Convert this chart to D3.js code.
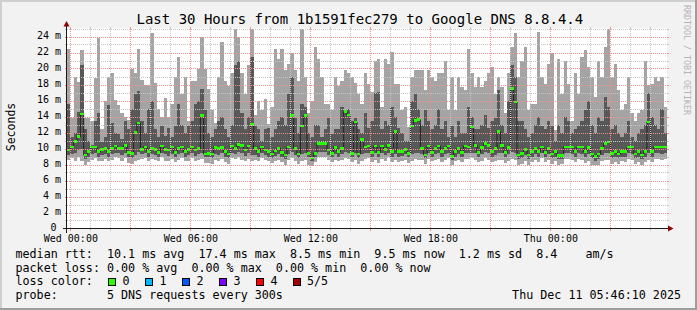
<!DOCTYPE html>
<html>
<head>
<meta charset="utf-8">
<script src="https://cdn.jsdelivr.net/npm/d3@7"></script>
<style>
html, body { margin: 0; padding: 0; background: #f2f2f2; }
svg { display: block; font-family: "DejaVu Sans Mono", monospace; }
</style>
</head>
<body>
<div id="chart"></div>
<script>
// 10 minute steps, 30 hours, values in ms
var startTime = "2025-12-09T23:50:00Z",
    stepMinutes = 10;

var maxRtt = [
  22.5,13.8,19.0,18.3,22.3,13.8,13.8,13.5,18.8,23.8,12.5,16.0,18.9,19.5,16.1,15.5,14.5,14.0,13.6,20.0,19.5,22.5,18.6,17.9,17.9,24.5,18.2,15.0,14.0,16.3,
  13.9,15.6,19.0,21.4,16.8,19.0,13.5,18.5,18.5,20.0,24.0,20.0,17.5,14.8,13.2,19.0,23.3,18.5,17.8,19.4,25.0,24.0,19.4,16.8,20.5,25.0,14.2,16.0,14.8,16.2,
  13.1,15.2,22.5,21.2,22.5,19.8,20.6,22.0,19.8,18.5,25.2,19.0,14.4,16.0,22.7,21.2,19.0,15.6,15.6,14.8,19.0,17.8,18.5,19.8,19.4,19.0,18.2,16.8,15.6,19.4,
  18.1,17.1,21.0,21.2,15.2,21.2,20.6,22.1,18.1,18.1,14.8,15.2,12.7,18.9,19.8,19.8,19.8,17.3,19.8,19.0,18.5,19.4,19.4,21.0,14.8,19.0,14.8,19.0,17.7,17.3,
  22.5,19.4,17.7,19.0,17.7,18.5,19.4,20.2,16.8,19.0,17.7,14.4,19.4,22.7,24.4,19.0,21.0,22.7,14.8,15.6,15.6,24.6,19.0,18.1,20.6,21.9,12.3,21.2,16.8,21.0,
  18.1,13.5,19.4,16.8,21.4,22.3,20.2,19.0,16.4,21.0,19.0,22.7,25.0,19.0,20.6,17.3,14.8,15.6,19.0,14.4,13.5,14.4,14.8,21.0,18.0,18.1,19.0,18.5,18.9,15.2
];

var p4Rtt = [
  15.6,11.5,12.0,14.6,20.5,12.5,11.0,10.5,13.5,14.5,10.8,11.5,15.5,13.2,12.0,11.8,11.2,13.5,12.5,15.0,16.8,17.2,13.5,12.0,15.0,16.0,12.5,11.5,12.8,11.6,
  12.6,11.5,12.8,15.6,13.0,12.0,12.8,13.5,15.6,16.0,17.5,14.8,12.0,11.5,12.5,13.5,14.0,12.5,11.5,13.0,20.5,21.0,14.5,12.5,14.0,21.5,12.8,12.5,11.0,12.5,
  12.6,11.5,12.5,13.5,14.0,13.0,16.8,19.0,13.8,12.0,15.6,15.2,12.0,11.5,13.0,13.0,11.5,12.5,13.8,11.8,12.5,12.5,15.2,14.8,15.0,13.5,13.8,12.5,12.0,14.5,
  12.6,13.5,16.9,17.1,12.5,13.5,13.0,15.2,14.0,12.6,12.0,11.0,11.0,16.0,16.8,15.0,13.0,14.8,13.5,12.5,13.0,15.0,12.5,13.5,11.5,12.8,11.5,13.5,12.0,12.0,
  15.2,14.0,12.5,12.5,13.0,14.2,12.6,13.5,13.8,17.3,13.0,12.0,16.0,20.4,19.0,13.5,13.5,12.5,11.5,12.0,13.0,14.0,12.8,12.5,13.5,12.8,11.0,13.0,12.0,14.0,
  13.5,12.0,12.5,12.8,13.5,14.8,16.0,13.0,12.0,14.0,13.5,16.5,15.2,12.5,13.0,12.0,11.5,12.0,13.5,11.5,11.0,12.0,12.5,13.0,17.0,14.0,13.0,12.5,15.0,12.0
];

var medRtt = [
  9.8,10.2,10.9,11.5,14.3,9.2,9.6,10.2,10.2,9.6,9.9,10.0,9.6,10.0,10.3,10.0,10.0,10.4,9.5,9.4,12.0,13.2,9.9,10.2,9.6,10.0,9.9,9.5,10.3,9.9,
  9.8,10.2,9.5,10.0,10.2,9.6,9.9,10.2,9.8,10.0,14.1,9.3,9.4,9.3,10.1,10.0,10.1,9.6,9.3,10.3,10.0,10.5,10.4,9.8,10.3,13.0,10.0,9.6,10.2,9.8,
  9.6,9.3,9.7,10.0,9.5,9.2,10.2,14.1,10.0,9.3,12.8,14.1,9.4,8.8,9.4,10.6,10.6,10.6,9.8,9.4,10.1,9.6,10.0,14.6,14.2,9.4,13.3,9.3,11.1,10.2,
  10.3,9.5,10.3,9.5,10.3,9.9,10.4,9.6,12.1,9.6,9.6,9.9,9.4,12.8,13.5,13.6,10.0,9.2,10.3,9.5,10.0,10.3,9.6,10.0,10.3,9.0,9.6,10.0,9.5,10.3,
  10.2,12.7,10.4,9.5,10.1,10.6,10.4,9.6,10.0,12.1,10.4,9.5,10.1,17.5,15.8,9.2,9.4,9.9,9.2,9.6,10.0,9.6,10.2,9.5,10.0,9.3,9.6,9.1,9.1,10.2,
  10.2,10.2,9.6,10.2,10.2,9.6,10.1,9.3,9.0,9.3,10.0,10.6,10.8,9.4,9.6,9.3,9.6,9.6,10.2,10.2,9.3,9.6,9.2,9.6,13.3,9.6,10.2,10.2,10.2,10.2
];

var p2Rtt = [
  9.2,9.3,9.4,9.8,10.0,8.7,9.0,9.3,9.4,9.0,9.2,9.3,9.0,9.3,9.5,9.4,9.2,9.5,9.0,8.8,9.2,9.6,9.3,9.4,9.0,9.3,9.2,9.0,9.5,9.3,
  9.1,9.3,8.9,9.3,9.4,9.0,9.2,9.4,9.1,9.3,9.5,8.9,8.9,8.8,9.3,9.2,9.4,9.0,8.8,9.5,9.3,9.6,9.4,9.1,9.4,9.2,9.2,9.0,9.4,9.2,
  9.0,8.8,9.1,9.3,8.9,8.7,9.3,9.6,9.2,8.8,9.3,9.5,8.9,8.4,8.9,9.6,9.6,9.6,9.2,8.9,9.3,9.0,9.3,9.6,9.5,8.9,9.4,8.8,9.3,9.4,
  9.4,8.9,9.4,8.9,9.4,9.2,9.5,9.0,9.3,9.0,9.1,9.3,8.9,9.3,9.4,9.5,9.3,8.8,9.4,9.0,9.3,9.4,9.0,9.3,9.4,8.6,9.0,9.3,8.9,9.4,
  9.4,9.5,9.4,8.9,9.3,9.6,9.4,9.0,9.2,9.4,9.4,8.9,9.3,9.6,9.5,8.7,8.8,9.2,8.7,9.0,9.3,9.0,9.4,8.9,9.3,8.8,9.0,8.7,8.7,9.4,
  9.4,9.3,9.0,9.4,9.3,9.0,9.3,8.8,8.5,8.7,9.2,9.4,9.5,8.8,9.0,8.8,9.0,9.0,9.4,9.3,8.8,9.0,8.7,9.0,9.4,9.0,9.4,9.4,9.3,9.4
];

var minRtt = [
  8.6,8.8,8.5,9.0,8.5,8.0,8.3,8.6,8.8,8.5,8.4,8.7,8.4,8.6,8.9,8.8,8.5,8.8,8.2,8.1,8.5,8.6,8.7,8.8,8.4,8.7,8.6,8.4,8.9,8.5,
  8.5,8.7,8.3,8.6,8.8,8.4,8.5,8.8,8.4,8.6,8.7,8.2,8.2,8.1,8.6,8.5,8.7,8.3,8.1,8.8,8.7,8.9,8.6,8.5,8.7,8.4,8.6,8.4,8.8,8.6,
  8.4,8.2,8.5,8.6,8.3,8.0,8.6,8.8,8.5,8.1,8.5,8.6,8.0,7.8,8.3,8.9,8.9,9.0,8.6,8.3,8.6,8.4,8.6,8.8,8.7,8.3,8.6,8.1,8.5,8.7,
  8.8,8.3,8.6,8.2,8.7,8.5,8.9,8.3,8.6,8.3,8.5,8.6,8.2,8.5,8.7,8.6,8.6,8.1,8.7,8.4,8.6,8.7,8.3,8.6,8.8,8.0,8.4,8.6,8.3,8.7,
  8.7,8.8,8.6,8.3,8.5,8.8,8.6,8.3,8.5,8.6,8.6,8.2,8.5,8.7,8.6,8.0,8.1,8.5,8.0,8.3,8.6,8.3,8.8,8.3,8.6,8.1,8.4,8.0,8.1,8.7,
  8.7,8.6,8.3,8.7,8.6,8.2,8.5,8.0,7.9,8.0,8.5,8.6,8.6,8.1,8.3,8.1,8.4,8.3,8.7,8.6,8.1,8.3,8.0,8.3,8.6,8.3,8.7,8.7,8.6,8.7
];

var lossLabels = ["0", "1", "2", "3", "4", "5/5"],
    lossColors = ["#26ff00", "#00b8ff", "#0059ff", "#7e00ff", "#ff0000", "#a10000"];

var titleText = "Last 30 Hours from 1b1591fec279 to Google DNS 8.8.4.4",
    rttLine = "median rtt:  10.1 ms avg  17.4 ms max  8.5 ms min  9.5 ms now  1.2 ms sd  8.4    am/s",
    lossLine = "packet loss: 0.00 % avg  0.00 % max  0.00 % min  0.00 % now",
    probeLine = "probe:       5 DNS requests every 300s",
    stampText = "Thu Dec 11 05:46:10 2025";

var W = 697, H = 310,
    plotL = 67, plotR = 667, plotT = 28.5, plotB = 228.5;

var svg = d3.select("#chart").append("svg")
    .attr("width", W)
    .attr("height", H);

// background and 3d frame
svg.append("rect").attr("width", W).attr("height", H).attr("fill", "#f2f2f2");
svg.append("rect").attr("x", 0).attr("y", 0).attr("width", W).attr("height", 2).attr("fill", "#cfcfcf");
svg.append("rect").attr("x", 0).attr("y", 0).attr("width", 2).attr("height", H).attr("fill", "#cfcfcf");
svg.append("rect").attr("x", 0).attr("y", H - 2).attr("width", W).attr("height", 2).attr("fill", "#9e9e9e");
svg.append("rect").attr("x", W - 2).attr("y", 0).attr("width", 2).attr("height", H).attr("fill", "#9e9e9e");

// canvas
svg.append("rect")
    .attr("x", plotL).attr("y", plotT)
    .attr("width", plotR - plotL).attr("height", plotB - plotT)
    .attr("fill", "#ffffff");

var t0 = d3.isoParse(startTime),
    stepMs = stepMinutes * 60 * 1000;

var rows = maxRtt.map(function(v, i) {
  return {
    t: new Date(+t0 + i * stepMs),
    max: v, p4: p4Rtt[i], med: medRtt[i], p2: p2Rtt[i], min: minRtt[i]
  };
});
// closing point so the last step gets its width
var last = rows[rows.length - 1];
rows.push({ t: new Date(+t0 + rows.length * stepMs), max: last.max, p4: last.p4, med: last.med, p2: last.p2, min: last.min });

var x = d3.scaleUtc()
    .domain([rows[0].t, rows[rows.length - 1].t])
    .range([plotL, plotR]);

var y = d3.scaleLinear()
    .domain([0, 25])
    .range([plotB, plotT])
    .clamp(true);

var outerSmoke = d3.area()
    .curve(d3.curveStepAfter)
    .x(function(d) { return x(d.t); })
    .y0(function(d) { return y(d.min); })
    .y1(function(d) { return y(d.max); });

var innerSmoke = d3.area()
    .curve(d3.curveStepAfter)
    .x(function(d) { return x(d.t); })
    .y0(function(d) { return y(d.p2); })
    .y1(function(d) { return y(d.p4); });

var medLine = d3.line()
    .curve(d3.curveStepAfter)
    .x(function(d) { return x(d.t); })
    .y(function(d) { return y(d.med); });

var medBand = d3.area()
    .curve(d3.curveStepAfter)
    .x(function(d) { return x(d.t); })
    .y0(function(d) { return y(d.med) + 1.3; })
    .y1(function(d) { return y(d.med) - 1.3; });

var g = svg.append("g");

g.append("path").datum(rows).attr("d", outerSmoke)
    .attr("fill", "#a4a4a4").attr("shape-rendering", "crispEdges");
g.append("path").datum(rows).attr("d", innerSmoke)
    .attr("fill", "#585858").attr("shape-rendering", "crispEdges");
g.append("path").datum(rows).attr("d", medLine)
    .attr("fill", "none").attr("stroke", "#202020").attr("stroke-width", 1);
g.append("path").datum(rows).attr("d", medBand)
    .attr("fill", lossColors[0]).attr("shape-rendering", "crispEdges");

// grid drawn over the data, like rrdtool
var minorCol = "#c4c4c4", majorCol = "#f29090";
var grid = svg.append("g").attr("shape-rendering", "crispEdges");

var hours = x.ticks(d3.utcHour.every(1));
hours.forEach(function(t) {
  var px = Math.round(x(t)) + 0.5;
  var major = t.getUTCHours() % 3 === 0;
  var col = major ? majorCol : minorCol;
  grid.append("line")
      .attr("x1", px).attr("x2", px).attr("y1", plotT).attr("y2", plotB)
      .attr("stroke", col).attr("stroke-dasharray", "1,1");
  grid.append("line")
      .attr("x1", px).attr("x2", px).attr("y1", plotB).attr("y2", plotB + 2)
      .attr("stroke", col);
  grid.append("line")
      .attr("x1", px).attr("x2", px).attr("y1", plotT - 2).attr("y2", plotT)
      .attr("stroke", col);
});

d3.range(1, 26).forEach(function(v) {
  var py = Math.round(y(v)) + 0.5;
  var col = v % 2 === 0 ? majorCol : minorCol;
  grid.append("line")
      .attr("x1", plotL).attr("x2", plotR).attr("y1", py).attr("y2", py)
      .attr("stroke", col).attr("stroke-dasharray", "1,1");
  grid.append("line")
      .attr("x1", plotL - 2).attr("x2", plotL).attr("y1", py).attr("y2", py)
      .attr("stroke", col);
  grid.append("line")
      .attr("x1", plotR).attr("x2", plotR + 2).attr("y1", py).attr("y2", py)
      .attr("stroke", col);
});

// axes with arrows
var axisCol = "#1a1a1a", arrowCol = "#8b0000";
svg.append("line")
    .attr("x1", plotL - 4).attr("x2", plotR + 2).attr("y1", plotB).attr("y2", plotB)
    .attr("stroke", axisCol).attr("shape-rendering", "crispEdges");
svg.append("line")
    .attr("x1", plotL - 0.5).attr("x2", plotL - 0.5).attr("y1", plotB + 4).attr("y2", plotT - 4)
    .attr("stroke", axisCol).attr("shape-rendering", "crispEdges");
svg.append("path")
    .attr("d", "M" + (plotR + 1) + "," + (plotB - 3) + "L" + (plotR + 6.5) + "," + plotB + "L" + (plotR + 1) + "," + (plotB + 3) + "Z")
    .attr("fill", arrowCol);
svg.append("path")
    .attr("d", "M" + (plotL - 3.5) + "," + (plotT - 2) + "L" + (plotL - 0.5) + "," + (plotT - 7.5) + "L" + (plotL + 2.5) + "," + (plotT - 2) + "Z")
    .attr("fill", arrowCol);

// y labels
var yTicks = d3.range(0, 25, 2);
svg.append("g").selectAll("text")
    .data(yTicks)
    .enter().append("text")
    .attr("x", function(d) { return d === 0 ? 56.5 : 61; })
    .attr("y", function(d) { return y(d) + 2.7; })
    .attr("text-anchor", "end")
    .attr("font-size", "10px")
    .attr("fill", "#000")
    .text(function(d) { return d === 0 ? "0" : d + " m"; });

// x labels
var fmt = d3.utcFormat("%a %H:%M");
svg.append("g").selectAll("text")
    .data(x.ticks(d3.utcHour.every(6)))
    .enter().append("text")
    .attr("x", function(d) { return x(d) + 0.5; })
    .attr("y", 241.5)
    .attr("text-anchor", "middle")
    .attr("font-size", "10px")
    .attr("fill", "#000")
    .text(fmt);

// title and side labels
svg.append("text")
    .attr("x", 136.5).attr("y", 23.5)
    .attr("font-size", "14px")
    .attr("fill", "#000")
    .text(titleText);

svg.append("text")
    .attr("transform", "translate(14.5,127) rotate(-90)")
    .attr("text-anchor", "middle")
    .attr("font-size", "11.5px")
    .attr("fill", "#000")
    .text("Seconds");

svg.append("text")
    .attr("transform", "translate(683.5,5) rotate(90)")
    .attr("font-size", "8.3px")
    .attr("fill", "#b4b4b4")
    .text("RRDTOOL / TOBI OETIKER");

// legend
var legend = svg.append("g")
    .attr("font-size", "11.7px")
    .attr("fill", "#000")
    .style("white-space", "pre");

legend.append("text").attr("x", 15.5).attr("y", 258).attr("xml:space", "preserve").text(rttLine);
legend.append("text").attr("x", 15.5).attr("y", 271.5).attr("xml:space", "preserve").text(lossLine);
legend.append("text").attr("x", 15.5).attr("y", 285).text("loss color:");
legend.append("text").attr("x", 15.5).attr("y", 298.5).attr("xml:space", "preserve").text(probeLine);
legend.append("text").attr("x", 681).attr("y", 298.5).attr("text-anchor", "end").text(stampText);

var boxX = [108.5, 145.5, 182.5, 219.5, 256.5, 293];
lossLabels.forEach(function(lab, i) {
  legend.append("rect")
      .attr("x", boxX[i]).attr("y", 278.5)
      .attr("width", 7).attr("height", 7)
      .attr("fill", lossColors[i])
      .attr("stroke", "#000").attr("stroke-width", 1)
      .attr("shape-rendering", "crispEdges");
  legend.append("text")
      .attr("x", boxX[i] + 14).attr("y", 285)
      .text(lab);
});
</script>
</body>
</html>
